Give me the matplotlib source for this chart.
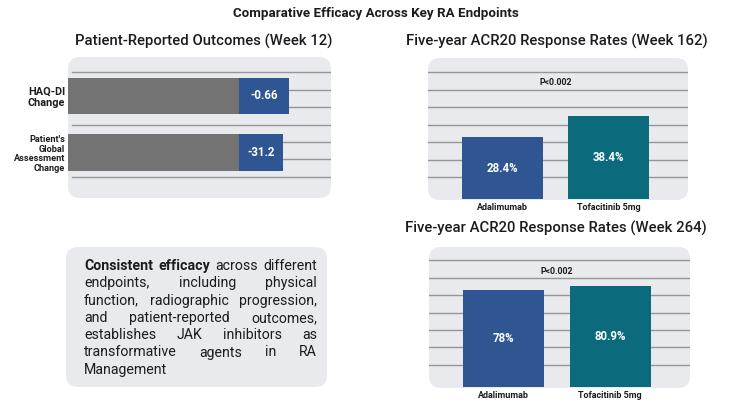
import matplotlib.pyplot as plt
from matplotlib.patches import FancyBboxPatch
import numpy as np

W, H = 750, 420

title = "Comparative Efficacy Across Key RA Endpoints"
left_title = "Patient-Reported Outcomes (Week 12)"
top_title = "Five-year ACR20 Response Rates (Week 162)"
bottom_title = "Five-year ACR20 Response Rates (Week 264)"

# patient-reported outcomes (bar lengths are illustrative, labels carry the values)
pro_labels = ["HAQ-DI\nChange", "Patient's\nGlobal\nAssessment\nChange"]
pro_base = [65, 65]
pro_change = [19, 16.7]
pro_values = ["-0.66", "-31.2"]

drugs = ["Adalimumab", "Tofacitinib 5mg"]
acr_162 = [28.4, 38.4]
acr_264 = [78, 80.9]
p_value = "P<0.002"

summary_lines = [
    "Consistent efficacy across different",
    "endpoints, including physical",
    "function, radiographic progression,",
    "and patient-reported outcomes,",
    "establishes JAK inhibitors as",
    "transformative agents in RA",
    "Management",
]
n_bold = 2

panel_color = "#e9eaee"
grid_color = "#969696"
gray = "#737373"
blue = "#2f5592"
teal = "#0b6b7c"
dark = "#1c1c1c"

plt.rcParams["font.family"] = ["Roboto", "DejaVu Sans"]

fig = plt.figure(figsize=(W / 100, H / 100), dpi=100)
bg = fig.add_axes([0, 0, 1, 1])
bg.set_xlim(0, W)
bg.set_ylim(H, 0)
bg.axis("off")


def panel(x0, y0, x1, y1):
    bg.add_patch(FancyBboxPatch((x0, y0), x1 - x0, y1 - y0,
                                boxstyle="round,pad=0,rounding_size=12",
                                fc=panel_color, ec="none"))


def px_axes(x0, y0, x1, y1):
    ax = fig.add_axes([x0 / W, 1 - y1 / H, (x1 - x0) / W, (y1 - y0) / H])
    ax.patch.set_alpha(0)
    for s in ax.spines.values():
        s.set_visible(False)
    return ax


bg.text(376, 13, title, ha="center", va="center", fontsize=9.6,
        fontweight="bold", color=dark)
bg.text(204, 41, left_title, ha="center", va="center", fontsize=10.7,
        fontweight="medium", color=dark)
bg.text(557, 41, top_title, ha="center", va="center", fontsize=10.7,
        fontweight="medium", color=dark)
bg.text(556, 228, bottom_title, ha="center", va="center", fontsize=10.7,
        fontweight="medium", color=dark)

# left: patient-reported outcomes
panel(68, 57, 331, 198)
ax = px_axes(68, 57, 331, 198)
ypos = np.arange(len(pro_labels))
for g in np.linspace(-0.42, 1.43, 7):
    ax.axhline(g, xmin=0.015, xmax=1, color=grid_color, lw=1, zorder=1)
ax.barh(ypos, pro_base, height=0.64, color=gray, zorder=2)
ax.barh(ypos, pro_change, left=pro_base, height=0.64, color=blue, zorder=2)
for y, b, c, v in zip(ypos, pro_base, pro_change, pro_values):
    ax.text(b + c / 2, y, v, ha="center", va="center", color="white",
            fontsize=8.3, fontweight="bold", zorder=3)
ax.set_xlim(0, 100)
ax.set_ylim(1.805, -0.69)
ax.set_xticks([])
ax.set_yticks(ypos)
ax.set_yticklabels(pro_labels, fontweight="bold", color=dark, linespacing=1.1)
ax.get_yticklabels()[0].set_fontsize(7.8)
ax.get_yticklabels()[1].set_fontsize(6.6)
ax.tick_params(axis="y", length=0, pad=2)


def acr_chart(box, values, ylim, grid, p_y):
    x0, y0, x1, y1 = box
    panel(x0, y0, x1, y1 + 1)
    ax = px_axes(*box)
    xpos = np.arange(len(drugs))
    for g in grid:
        ax.axhline(g, color=grid_color, lw=1, zorder=1)
    ax.bar(xpos, values, width=0.764, color=[blue, teal], zorder=2)
    for x, v in zip(xpos, values):
        ax.text(x, v / 2, f"{v:g}%", ha="center", va="center", color="white",
                fontsize=8.3, fontweight="bold", zorder=3)
    ax.text(0.5, p_y, p_value, ha="center", va="center", fontsize=6.3,
            fontweight="bold", color=dark)
    ax.set_xlim(-0.703, 1.75)
    ax.set_ylim(*ylim)
    ax.set_yticks([])
    ax.set_xticks(xpos)
    ax.set_xticklabels(drugs, fontsize=6.5, fontweight="bold", color=dark)
    ax.tick_params(axis="x", length=0, pad=3)


acr_chart((428, 58, 688, 199), acr_162, (0, 65), np.linspace(10, 58.5, 7), 53.5)
acr_chart((429, 247, 690, 387), acr_264, (0, 112.5), np.linspace(17.7, 102, 7), 93.2)

# summary text box, justified
panel(66, 247, 327, 387)
renderer = fig.canvas.get_renderer()
tx0, tx1 = 84, 317
k = 0
for i, line in enumerate(summary_lines):
    words = line.split()
    arts = []
    for w in words:
        wt = "bold" if k < n_bold else "normal"
        k += 1
        arts.append(bg.text(0, 270 + 17.3 * i, w, fontsize=10.2, fontweight=wt,
                            color=dark, va="baseline", ha="left"))
    widths = [a.get_window_extent(renderer).width for a in arts]
    if i == len(summary_lines) - 1 or len(words) == 1:
        gap = 4
    else:
        gap = max(2.5, (tx1 - tx0 - sum(widths)) / (len(words) - 1))
    x = tx0
    for a, w in zip(arts, widths):
        a.set_x(x)
        x += w + gap

fig.savefig("out.png", dpi=100)
